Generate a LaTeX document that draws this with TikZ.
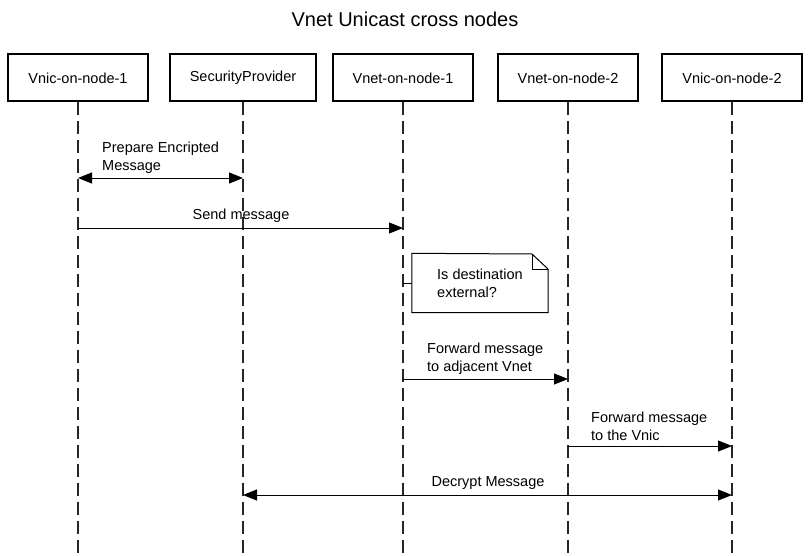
\documentclass[tikz,border=0pt]{standalone}
\usepackage{fontspec}
\setmainfont{Liberation Sans}
\usetikzlibrary{arrows.meta}
\begin{document}
\begin{tikzpicture}[x=1pt,y=-1pt,
  actor/.style={draw,line width=2pt,minimum height=47pt,inner xsep=20pt,font=\fontsize{14.5}{17}\selectfont},
  lifeline/.style={line width=1.4pt,draw=black!85,dash pattern=on 13pt off 6pt},
  msg/.style={line width=1pt,-{Triangle[length=14pt,width=11pt]}},
  bimsg/.style={line width=1pt,{Triangle[length=14pt,width=11pt]}-{Triangle[length=14pt,width=11pt]}},
  lbl/.style={font=\fontsize{14.5}{18}\selectfont,inner sep=0pt},
  notebox/.style={minimum width=136pt,minimum height=59pt,inner sep=0pt}]
\useasboundingbox (0,0) rectangle (810,556);
\node[font=\fontsize{20}{24}\selectfont] (title) at (405,19) {Vnet Unicast cross nodes};
\node[actor] (a1) at (78,78) {Vnic-on-node-1};
\node[actor] (a2) at (243,78) {SecurityProvider};
\node[actor] (a3) at (403,78) {Vnet-on-node-1};
\node[actor] (a4) at (568,78) {Vnet-on-node-2};
\node[actor] (a5) at (732,78) {Vnic-on-node-2};
\foreach \i/\x in {1/78,2/243,3/403,4/568,5/732}{
  \coordinate (e\i) at (\x,556);
  \draw[lifeline] (a\i.south) -- (e\i);
}
% message coordinates
\coordinate (p1) at (78,178); \coordinate (p2) at (243,178);
\coordinate (s1) at (78,228); \coordinate (s3) at (403,228);
\coordinate (n3) at (403,283);
\coordinate (f3) at (403,379); \coordinate (f4) at (568,379);
\coordinate (g4) at (568,446); \coordinate (g5) at (732,446);
\coordinate (d2) at (243,495); \coordinate (d5) at (732,495);
% messages
\draw[bimsg] (p1) -- (p2);
\node[lbl,anchor=west,align=left] (lp) at (102,158) {Prepare Encripted\\Message};
\draw[msg] (s1) -- (s3);
\node[lbl] (ls) at (241,216) {Send message};
% note
\node[notebox] (note) at (480,283) {};
\coordinate (fa) at (532,254);
\coordinate (fb) at (548,269);
\coordinate (fc) at (532,269);
\draw[line width=1pt,fill=white] (note.north west) -- (fa) -- (fb) -- (note.south east) -- (note.south west) -- cycle;
\draw[line width=1pt] (fa) -- (fc) -- (fb);
\draw[line width=1pt] (n3) -- (note.west);
\node[lbl,anchor=west,align=left] (ln) at (437,283) {Is destination\\external?};
\draw[msg] (f3) -- (f4);
\node[lbl,anchor=west,align=left] (lf) at (427,359) {Forward message\\to adjacent Vnet};
\draw[msg] (g4) -- (g5);
\node[lbl,anchor=west,align=left] (lg) at (591,426) {Forward message\\to the Vnic};
\draw[bimsg] (d2) -- (d5);
\node[lbl] (ld) at (488,483) {Decrypt Message};
\end{tikzpicture}
\end{document}
